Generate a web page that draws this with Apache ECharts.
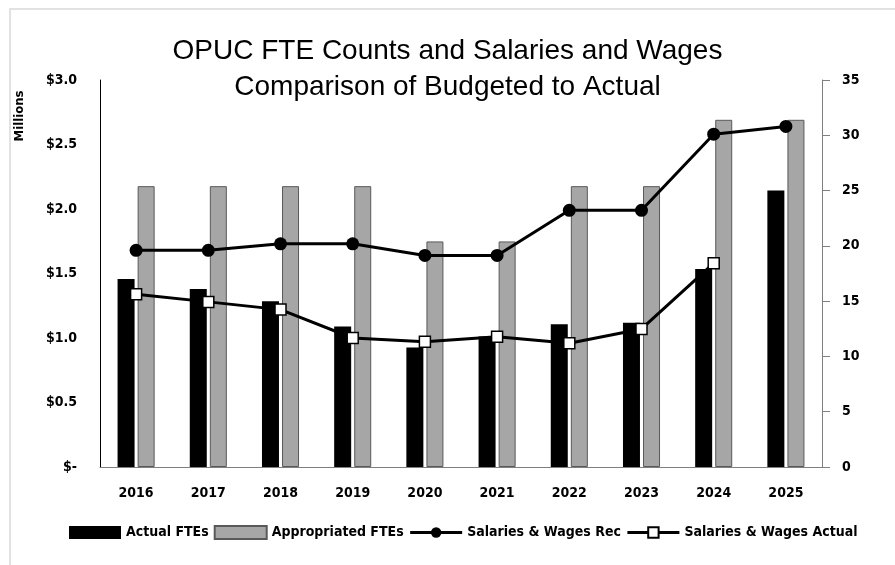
<!DOCTYPE html>
<html>
<head>
<meta charset="utf-8">
<script src="https://cdn.jsdelivr.net/npm/echarts@6/dist/echarts.min.js"></script>
<style>
  html, body { margin: 0; padding: 0; background: #fff; }
  #chart { width: 895px; height: 565px; }
</style>
</head>
<body>
<div id="chart"></div>
<script>
// data
var years = ['2016', '2017', '2018', '2019', '2020', '2021', '2022', '2023', '2024', '2025'];
var actualFTEs = [17.0, 16.1, 15.0, 12.7, 10.8, 11.8, 12.9, 13.05, 17.9, 25.0];
var appropriatedFTEs = [25.4, 25.4, 25.4, 25.4, 20.4, 20.4, 25.4, 25.4, 31.4, 31.4];
var salariesRec = [1.68, 1.68, 1.73, 1.73, 1.64, 1.64, 1.99, 1.99, 2.58, 2.64];
var salariesActual = [1.34, 1.28, 1.22, 1.00, 0.97, 1.01, 0.96, 1.07, 1.58, null];

var narrow = "'DejaVu Sans Condensed', 'Liberation Sans Narrow', sans-serif";

var myChart = echarts.init(document.getElementById('chart'));

var option = {
    backgroundColor: '#fff',
    animation: false,
    title: {
        text: 'OPUC FTE Counts and Salaries and Wages\nComparison of Budgeted to Actual',
        left: 'center',
        top: 28,
        textStyle: {
            fontFamily: "'Liberation Sans', Arial, sans-serif",
            fontWeight: 'normal',
            fontSize: 28,
            lineHeight: 36,
            color: '#000'
        }
    },
    graphic: [{
        type: 'rect',
        shape: { x: 10, y: 9, width: 900, height: 600 },
        style: { fill: 'none', stroke: '#d9d9d9', lineWidth: 1.5 },
        silent: true
    }, {
        type: 'text',
        x: 20,
        y: 116,
        rotation: Math.PI / 2,
        style: {
            text: 'Millions',
            font: 'bold 13px ' + narrow,
            fill: '#000',
            align: 'center',
            verticalAlign: 'middle'
        }
    }],
    legend: {
        left: 64,
        top: 520,
        itemWidth: 52,
        itemHeight: 13,
        itemGap: 5,
        lineStyle: { width: 3 },
        textStyle: { fontFamily: narrow, fontWeight: 'bold', fontSize: 14, color: '#000' },
        data: [
            { name: 'Actual FTEs', icon: 'rect' },
            { name: 'Appropriated FTEs', icon: 'rect' },
            'Salaries & Wages Rec',
            'Salaries & Wages Actual'
        ]
    },
    grid: { left: 100, right: 73, top: 80, bottom: 98 },
    xAxis: {
        type: 'category',
        data: years,
        axisLine: { lineStyle: { color: '#7f7f7f', width: 1 } },
        axisTick: { show: false },
        axisLabel: { margin: 19, fontFamily: narrow, fontWeight: 'bold', fontSize: 14, color: '#000' }
    },
    yAxis: [{
        type: 'value',
        min: 0,
        max: 3,
        interval: 0.5,
        axisLine: { show: true, lineStyle: { color: '#000', width: 1 } },
        axisTick: { show: false },
        splitLine: { show: false },
        axisLabel: {
            margin: 23,
            fontFamily: narrow, fontWeight: 'bold', fontSize: 14, color: '#000',
            formatter: function (v) {
                return v === 0 ? '$-' : '$' + v.toFixed(1);
            }
        }
    }, {
        type: 'value',
        min: 0,
        max: 35,
        interval: 5,
        position: 'right',
        axisLine: { show: true, lineStyle: { color: '#7f7f7f', width: 1 } },
        axisTick: { show: true, inside: false, length: 8, lineStyle: { color: '#7f7f7f' } },
        splitLine: { show: false },
        axisLabel: { margin: 20, fontFamily: narrow, fontWeight: 'bold', fontSize: 14, color: '#000' }
    }],
    series: [{
        name: 'Actual FTEs',
        type: 'bar',
        yAxisIndex: 1,
        barWidth: 17,
        barGap: '18%',
        itemStyle: { color: '#000' },
        data: actualFTEs
    }, {
        name: 'Appropriated FTEs',
        type: 'bar',
        yAxisIndex: 1,
        barWidth: 17,
        itemStyle: { color: '#a6a6a6', borderColor: '#595959', borderWidth: 1 },
        data: appropriatedFTEs
    }, {
        name: 'Salaries & Wages Rec',
        type: 'line',
        yAxisIndex: 0,
        symbol: 'circle',
        symbolSize: 13,
        lineStyle: { color: '#000', width: 3 },
        itemStyle: { color: '#000' },
        data: salariesRec
    }, {
        name: 'Salaries & Wages Actual',
        type: 'line',
        yAxisIndex: 0,
        symbol: 'rect',
        symbolSize: 11,
        lineStyle: { color: '#000', width: 3 },
        itemStyle: { color: '#fff', borderColor: '#000', borderWidth: 1.5 },
        data: salariesActual
    }]
};

myChart.setOption(option);
</script>
</body>
</html>
